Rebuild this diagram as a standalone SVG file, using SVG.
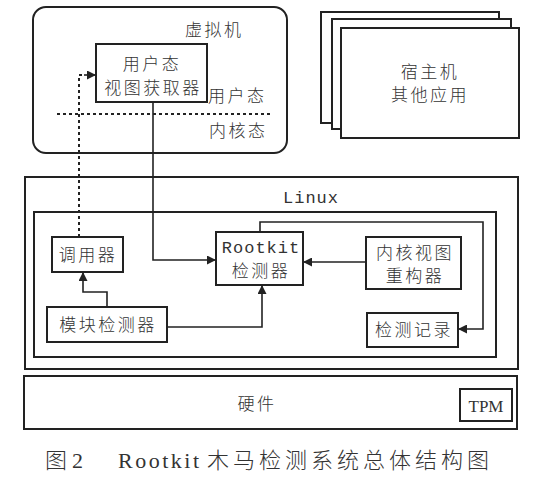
<svg xmlns="http://www.w3.org/2000/svg" width="535" height="479" viewBox="0 0 535 479">
<style>
.box{fill:#fff;stroke:#222;stroke-width:2}
.ln{fill:none;stroke:#222;stroke-width:1.6}
.dot{fill:none;stroke:#222;stroke-width:2;stroke-dasharray:3 3}
.cn{font-family:"Noto Sans CJK SC",sans-serif;font-size:17px;font-weight:300;fill:#333;letter-spacing:2.5px}
.mono{font-family:"Liberation Mono",monospace;font-size:17px;fill:#333}
.cap{font-family:"Liberation Serif","Noto Sans CJK SC",serif;font-size:22px;fill:#333}
.capc{font-family:"Noto Sans CJK SC",sans-serif;font-size:22px;font-weight:300;fill:#333}
</style>
<defs>
<marker id="arb" viewBox="0 0 10 10" refX="10" refY="5" markerWidth="10" markerHeight="9" markerUnits="userSpaceOnUse" orient="auto"><path d="M0,0L10,5L0,10z" fill="#222"/></marker>
</defs>
<rect width="535" height="479" fill="#fff"/>

<g id="vm">
<rect class="box" x="33" y="7" width="254" height="146" rx="13"/>
<text class="cn" x="185" y="36">虚拟机</text>
<text class="cn" x="208" y="102">用户态</text>
<text class="cn" x="209" y="137">内核态</text>
<line class="dot" x1="57" y1="114" x2="270" y2="114"/>
</g>

<g id="user-view">
<rect class="box" x="96" y="44" width="111" height="58"/>
<text class="cn" x="152" y="70" text-anchor="middle">用户态</text>
<text class="cn" x="153" y="94" text-anchor="middle">视图获取器</text>
</g>

<g id="host-apps">
<rect class="box" x="321" y="12" width="178" height="111"/>
<rect class="box" x="332" y="19" width="179" height="110"/>
<rect class="box" x="341" y="28" width="178" height="110"/>
<text class="cn" x="430" y="78" text-anchor="middle">宿主机</text>
<text class="cn" x="430" y="101" text-anchor="middle">其他应用</text>
</g>

<g id="linux">
<rect class="box" x="25" y="177" width="493" height="192"/>
<text class="mono" x="283" y="203" letter-spacing="1">Linux</text>
<rect class="box" x="34" y="212" width="462" height="145"/>
</g>

<g id="caller">
<rect class="box" x="52" y="237" width="71" height="35"/>
<text class="cn" x="88" y="261" text-anchor="middle">调用器</text>
</g>

<g id="module-detector">
<rect class="box" x="47" y="307" width="120" height="35"/>
<text class="cn" x="108" y="331" text-anchor="middle">模块检测器</text>
</g>

<g id="rootkit-detector">
<rect class="box" x="216" y="232" width="87" height="53"/>
<text class="mono" x="261" y="253" text-anchor="middle" letter-spacing="1">Rootkit</text>
<text class="cn" x="261" y="277" text-anchor="middle">检测器</text>
</g>

<g id="kernel-view">
<rect class="box" x="366" y="237" width="95" height="52"/>
<text class="cn" x="415" y="259" text-anchor="middle">内核视图</text>
<text class="cn" x="415" y="282" text-anchor="middle">重构器</text>
</g>

<g id="log">
<rect class="box" x="367" y="313" width="91" height="34"/>
<text class="cn" x="414" y="336" text-anchor="middle">检测记录</text>
</g>

<g id="hardware">
<rect class="box" x="24" y="376" width="493" height="53"/>
<text class="cn" x="257" y="410" text-anchor="middle">硬件</text>
<rect class="box" x="460" y="389" width="52" height="32"/>
<text x="486" y="412" text-anchor="middle" font-family="Liberation Serif,serif" font-size="17" fill="#333">TPM</text>
</g>

<g id="connectors">
<polyline class="dot" points="79,237 79,75 85,75"/>
<line class="ln" x1="84" y1="75" x2="96" y2="75" marker-end="url(#arb)"/>
<polyline class="ln" points="153,102 153,260 216,260" marker-end="url(#arb)"/>
<polyline class="ln" points="107,307 107,292 83,292 83,272" marker-end="url(#arb)"/>
<polyline class="ln" points="167,327 262,327 262,285" marker-end="url(#arb)"/>
<line class="ln" x1="366" y1="262" x2="303" y2="262" marker-end="url(#arb)"/>
<polyline class="ln" points="260,232 260,222 483,222 483,329 458,329" marker-end="url(#arb)"/>
</g>

<g id="caption">
<text class="capc" x="45" y="468">图</text>
<text class="cap" x="72" y="468">2</text>
<text class="cap" x="118" y="468" letter-spacing="2.5">Rootkit</text>
<text class="capc" x="207" y="468" letter-spacing="4">木马检测系统总体结构图</text>
</g>
</svg>
